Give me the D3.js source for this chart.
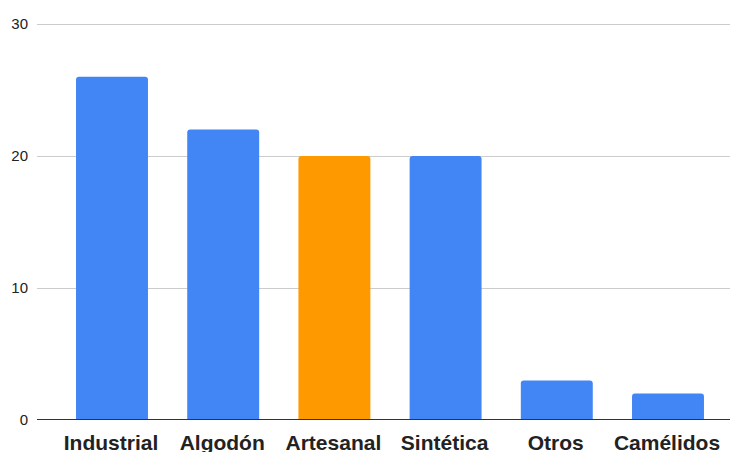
<!DOCTYPE html>
<html>
<head>
<meta charset="utf-8">
<script src="https://cdn.jsdelivr.net/npm/d3@7"></script>
<style>
  html, body { margin: 0; padding: 0; background: #fff; }
  svg { display: block; }
</style>
</head>
<body>
<svg id="chart" width="730" height="452"></svg>
<script>
// Fibre types and their counts
const categories = ["Industrial", "Algodón", "Artesanal", "Sintética", "Otros", "Camélidos"];
const values = [26, 22, 20, 20, 3, 2];
const highlighted = ["Artesanal"];
const yTicks = [0, 10, 20, 30];

const svg = d3.select("#chart");
const W = 730, H = 452;

const plotLeft = 37, plotRight = 730, plotTop = 24, plotBottom = 420;

const x = d3.scaleBand()
  .domain(categories)
  .range([56.4, 723.6])
  .paddingInner(0.353)
  .paddingOuter(0.1765);

const y = d3.scaleLinear()
  .domain([0, 30])
  .range([plotBottom, plotTop]);

// horizontal gridlines
svg.append("g")
  .selectAll("line")
  .data(yTicks.filter(t => t !== 0))
  .join("line")
  .attr("x1", plotLeft).attr("x2", plotRight)
  .attr("y1", d => Math.round(y(d)) + 0.5)
  .attr("y2", d => Math.round(y(d)) + 0.5)
  .attr("stroke", "#cccccc")
  .attr("stroke-width", 1);

// y tick labels
svg.append("g")
  .selectAll("text")
  .data(yTicks)
  .join("text")
  .attr("x", 28)
  .attr("y", d => y(d))
  .attr("dy", "0.36em")
  .attr("text-anchor", "end")
  .attr("font-family", "Liberation Sans, Arial, sans-serif")
  .attr("font-size", 15)
  .attr("fill", "#222")
  .text(d => d);

// bars with rounded top corners
const r = 3;
function barPath(d, i) {
  const x0 = x(d), w = x.bandwidth();
  const y0 = y(values[i]), y1 = y(0);
  return `M${x0},${y1} L${x0},${y0 + r} Q${x0},${y0} ${x0 + r},${y0} ` +
         `L${x0 + w - r},${y0} Q${x0 + w},${y0} ${x0 + w},${y0 + r} L${x0 + w},${y1} Z`;
}
svg.append("g")
  .selectAll("path")
  .data(categories)
  .join("path")
  .attr("d", barPath)
  .attr("fill", d => highlighted.includes(d) ? "#ff9900" : "#4285f4");

// baseline
svg.append("line")
  .attr("x1", plotLeft).attr("x2", plotRight)
  .attr("y1", Math.round(y(0)) - 0.5).attr("y2", Math.round(y(0)) - 0.5)
  .attr("stroke", "#333333")
  .attr("stroke-width", 1);

// x category labels
svg.append("g")
  .selectAll("text")
  .data(categories)
  .join("text")
  .attr("x", d => x(d) + x.bandwidth() / 2 - 1)
  .attr("y", 450)
  .attr("text-anchor", "middle")
  .attr("font-family", "Liberation Sans, Arial, sans-serif")
  .attr("font-weight", "bold")
  .attr("font-size", 21)
  .attr("fill", "#222")
  .text(d => d);
</script>
</body>
</html>
